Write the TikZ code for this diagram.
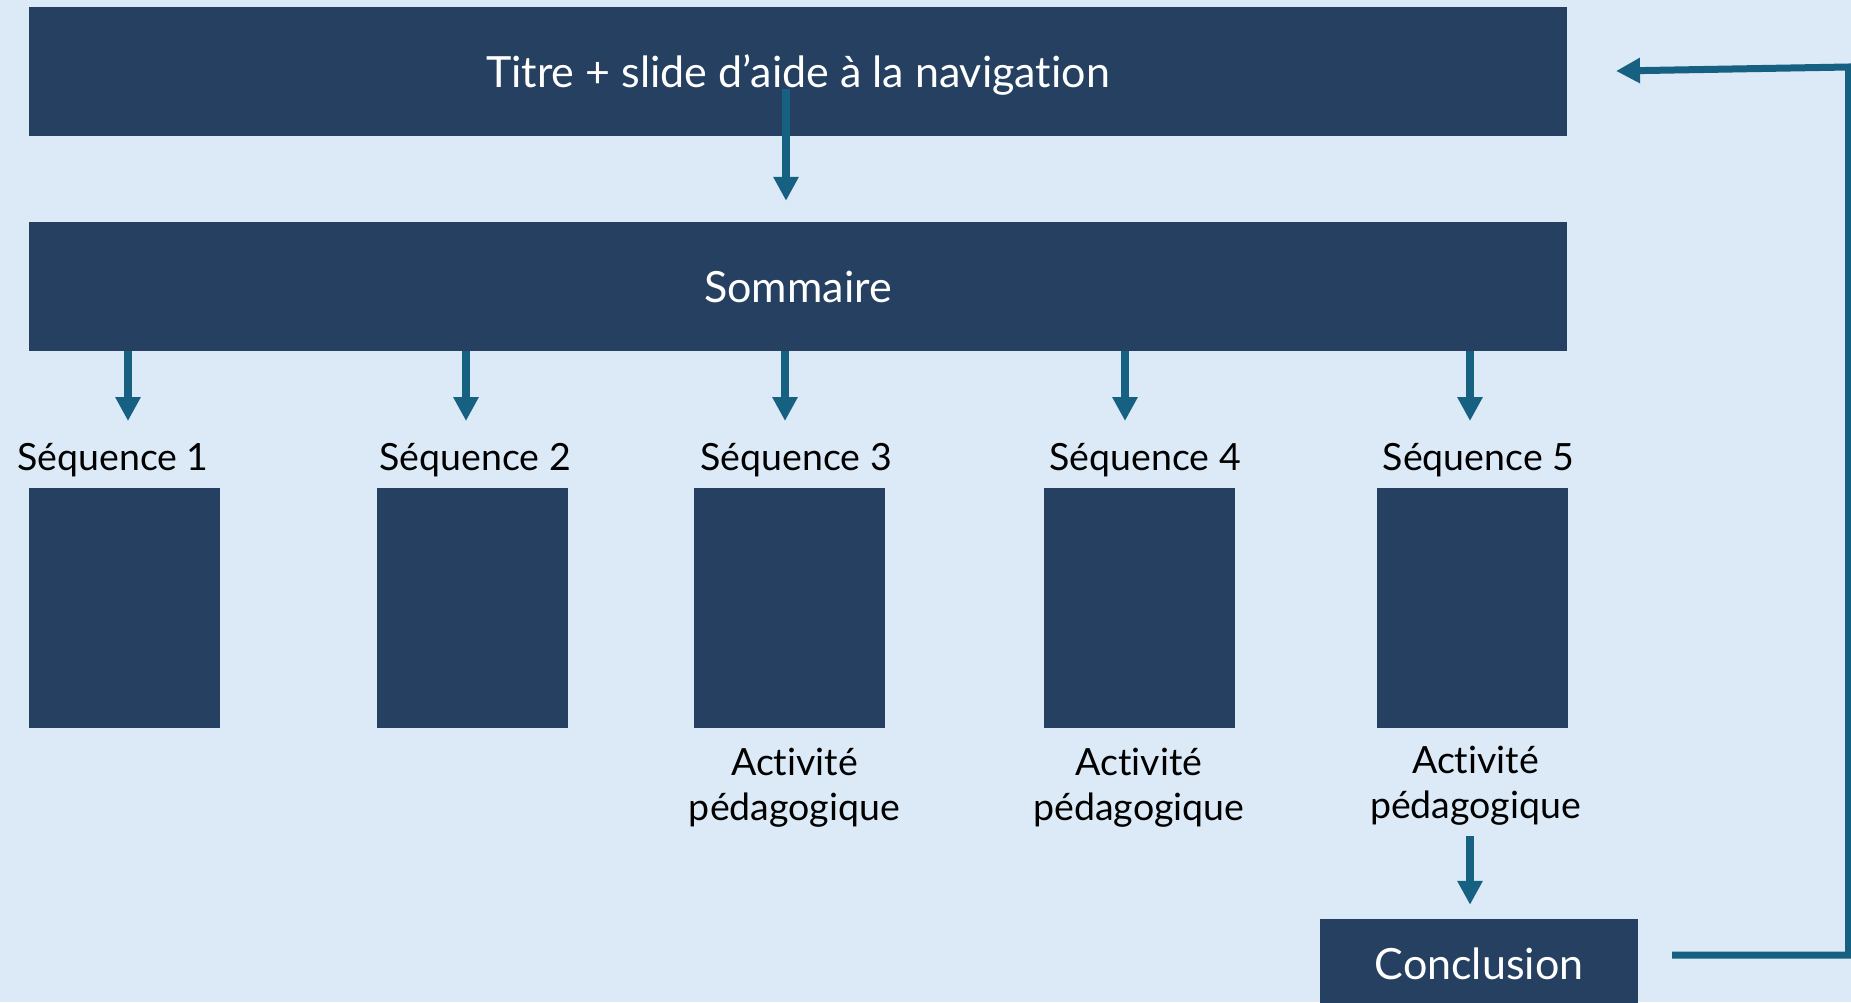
\documentclass[tikz,border=0pt]{standalone}
\usepackage{fontspec}
\setmainfont{Lato}[Ligatures={NoCommon}]
\usetikzlibrary{arrows.meta}
\definecolor{bgblue}{RGB}{220,233,246}
\definecolor{boxblue}{RGB}{38,64,97}
\definecolor{arrowblue}{RGB}{22,96,130}
\tikzset{
  bar/.style={fill=boxblue, text=white, inner sep=0pt, minimum width=1538pt, minimum height=129pt, font=\fontsize{43}{50}\selectfont},
  seqbox/.style={fill=boxblue, inner sep=0pt, minimum width=191pt, minimum height=240pt},
  seqlabel/.style={anchor=base, inner sep=0pt, font=\fontsize{37.5}{45}\selectfont},
  actlabel/.style={anchor=base, inner sep=0pt, align=center, font=\fontsize{37.5}{45}\selectfont},
  flow/.style={draw=arrowblue, line width=8pt, -{Triangle[width=24pt,length=24pt]}},
}
\begin{document}
\begin{tikzpicture}[x=1pt, y=-1pt]
            \fill[bgblue] (0,0) rectangle (1851,1002);
            \useasboundingbox (0,0) rectangle (1851,1002);
            % title and summary bars
            \node[bar, text height=31pt, text depth=0pt] (titre) at (798,71.5) {Titre + slide d’aide à la navigation};
            \node[bar] (somm) at (798,286.5) {Sommaire};
            \coordinate (tstart) at (786,89);
            \draw[flow, shorten >=21pt] (tstart) -- (somm.north -| tstart);
            % sequences
            \foreach \i/\bx/\lx/\ax in {1/124.5/113/128, 2/472.5/475/466, 3/789.5/796/785, 4/1139.5/1145/1125, 5/1472.5/1478.5/1470} {
                \node[seqbox] (seq\i) at (\bx,608) {};
                \node[seqlabel] (lab\i) at (\lx,470.5) {Séquence \i};
                \coordinate (tip\i) at (\ax,421);
                \draw[flow] (somm.south -| tip\i) -- (tip\i);
            }
            \node[actlabel] (act3) at (794.5,820) {Activité\\pédagogique};
            \node[actlabel] (act4) at (1139,820) {Activité\\pédagogique};
            \node[actlabel] (act5) at (1475.5,818) {Activité\\pédagogique};
            % conclusion and way back
            \node[fill=boxblue, text=white, inner sep=0pt, minimum width=318pt, minimum height=90pt, font=\fontsize{43}{50}\selectfont] (concl) at (1479,964) {Conclusion};
            \coordinate (cstart) at (1470,836);
            \draw[flow, shorten >=14pt] (cstart) -- (concl.north -| cstart);
            \coordinate (back) at (1672,955);
            \coordinate (backtip) at (1616,71);
            \draw[flow, line width=7pt] (back) -- (1848.5,955) -- (1848.5,67) -- (backtip);
        \end{tikzpicture}
\end{document}
